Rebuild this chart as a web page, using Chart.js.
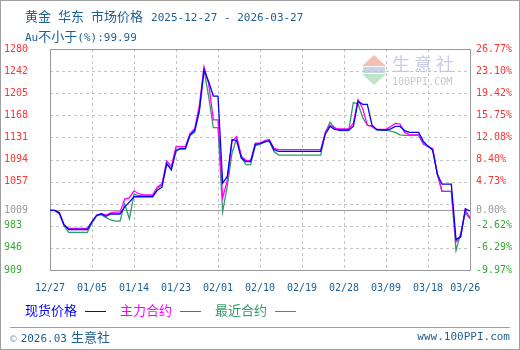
<!DOCTYPE html>
<html>
<head>
<meta charset="utf-8">
<script src="https://cdn.jsdelivr.net/npm/chart.js@4.4.1/dist/chart.umd.min.js"></script>
<style>
    body { margin: 0; background: #fff; }
    #wrap { position: relative; width: 520px; height: 350px; overflow: hidden; }
    #wrap canvas { position: absolute; left: 0; top: 0; }
    .frame { position: absolute; left: 0; top: 0; width: 520px; height: 350px; box-sizing: border-box; border: 1px solid #a0a0a0; pointer-events: none; }
    .t { position: absolute; white-space: nowrap; color: #1d5f91; line-height: 1; }
    .cjk { font-family: "Noto Sans CJK SC", sans-serif; font-size: 13px; }
    .mono { font-family: "DejaVu Sans Mono", monospace; font-size: 11px; }
    .lg { position: absolute; top: 303px; font-family: "Noto Sans CJK SC", sans-serif; font-size: 13px; line-height: 1; white-space: nowrap; }
    .lg i { display: inline-block; width: 21px; height: 0; border-top: 1.5px solid; vertical-align: middle; margin-left: 8px; }
    .sep { position: absolute; left: 10px; top: 327px; width: 500px; height: 0; border-top: 1px solid #a0a0a0; }
</style>
</head>
<body>
<div id="wrap">
    <canvas id="grafico" width="520" height="350"></canvas>
    <div class="t" style="left:25px; top:8px;">
        <span class="cjk" style="margin-right:7px">黄金</span><span class="cjk" style="margin-right:7px">华东</span><span class="cjk" style="margin-right:8px">市场价格</span><span class="mono">2025-12-27 - 2026-03-27</span>
    </div>
    <div class="t" style="left:25px; top:28px;">
        <span class="mono">Au</span><span class="cjk">不小于</span><span class="mono">(%):99.99</span>
    </div>
    <div class="lg" style="left:25px; color:#0000ff;">现货价格<i></i></div>
    <div class="lg" style="left:120px; color:#ff00ff;">主力合约<i></i></div>
    <div class="lg" style="left:215px; color:#339966;">最近合约<i></i></div>
    <div class="sep"></div>
    <div class="t" style="left:10px; top:329px;">
        <span class="mono" style="color:#8a9fb5">©</span> <span class="mono">2026.03</span> <span class="cjk">生意社</span>
    </div>
    <div class="t mono" style="right:10px; top:331px;">www.100PPI.com</div>
    <div class="frame"></div>
</div>
<script>
// fechas: 2025-12-27 .. 2026-03-27 (una por día)
const fechaInicio = new Date(2025, 11, 27);
const totalDias = 91;
const etiquetas = [];
for (let i = 0; i < totalDias; i++) {
    const d = new Date(fechaInicio.getTime() + i * 86400000);
    etiquetas.push(String(d.getMonth() + 1).padStart(2, '0') + '/' + String(d.getDate()).padStart(2, '0'));
}

// 现货价格
const precioSpot = [
    1009, 1009, 1005, 985, 977, 977, 977, 977, 977, 990,
    1001, 1003, 999, 1003, 1003, 1003, 1015, 1023, 1032, 1032,
    1032, 1032, 1032, 1043, 1048, 1088, 1077, 1109, 1113, 1113,
    1136, 1143, 1177, 1245, 1225, 1201, 1201, 1055, 1066, 1128,
    1126, 1097, 1091, 1091, 1120, 1121, 1124, 1126, 1111, 1108,
    1108, 1108, 1108, 1108, 1108, 1108, 1108, 1108, 1108, 1137,
    1150, 1145, 1144, 1144, 1144, 1150, 1192, 1187, 1187, 1152,
    1145, 1144, 1144, 1146, 1150, 1150, 1143, 1140, 1140, 1140,
    1125, 1117, 1110, 1070, 1053, 1053, 1053, 960, 965, 1012,
    1008
];

// 主力合约
const contratoPrincipal = [
    1009, 1009, 1005, 985, 979, 979, 979, 979, 979, 990,
    1001, 1004, 1001, 1005, 1006, 1006, 1028, 1030, 1042, 1037,
    1035, 1035, 1035, 1048, 1054, 1092, 1083, 1116, 1116, 1116,
    1138, 1146, 1185, 1250, 1222, 1161, 1161, 1030, 1060, 1125,
    1133, 1100, 1093, 1093, 1122, 1122, 1126, 1128, 1113, 1111,
    1111, 1111, 1111, 1111, 1111, 1111, 1111, 1111, 1111, 1140,
    1152, 1147, 1146, 1146, 1146, 1155, 1195, 1180, 1152, 1150,
    1145, 1145, 1145, 1150, 1155, 1154, 1140, 1136, 1136, 1136,
    1122, 1116, 1113, 1070, 1041, 1041, 1041, 956, 965, 1010,
    996
];

// 最近合约
const contratoCercano = [
    1009, 1009, 1003, 983, 972, 972, 972, 972, 972, 988,
    1000, 1002, 997, 993, 991, 991, 1020, 995, 1036, 1034,
    1034, 1034, 1034, 1046, 1052, 1086, 1080, 1112, 1112, 1112,
    1135, 1140, 1175, 1245, 1200, 1148, 1148, 1007, 1050, 1105,
    1130, 1098, 1086, 1086, 1118, 1120, 1124, 1125, 1108, 1102,
    1102, 1102, 1102, 1102, 1102, 1102, 1102, 1102, 1102, 1140,
    1157, 1148, 1143, 1143, 1143, 1190, 1188, 1165, 1152, 1150,
    1144, 1144, 1144, 1142, 1140, 1136, 1135, 1135, 1135, 1135,
    1120, 1116, 1112, 1070, 1041, 1041, 1041, 942, 971, 1005,
    995
];

// ejes
const valorBase = 1009.7;
const ticksY = [909, 946.1, 983.2, 1009.7, 1020.3, 1057.4, 1094.5, 1131.6, 1168.7, 1205.8, 1242.9, 1280];
const etiquetasIzq = ['909', '946', '983', '1009', '', '1057', '1094', '1131', '1168', '1205', '1242', '1280'];
const etiquetasDer = ['-9.97%', '-6.29%', '-2.62%', '0.00%', '', '4.73%', '8.40%', '12.08%', '15.75%', '19.42%', '23.10%', '26.77%'];
const ticksX = [0, 9, 18, 27, 36, 45, 54, 63, 72, 81, 89];

const colorTick = function (ctx) {
    const v = ctx.tick ? ctx.tick.value : 0;
    if (Math.abs(v - valorBase) < 0.01) return '#999999';
    return v > valorBase ? '#ff3333' : '#33aa33';
};

// rejilla punteada, línea base, marco y marca de agua
const marco = {
    id: 'marco',
    beforeDatasetsDraw(chart) {
        const c = chart.ctx;
        const a = chart.chartArea;
        const sy = chart.scales.y;
        const sx = chart.scales.x;
        c.save();
        // marca de agua
        const lx = a.right - 108, ly = a.top + 6;
        c.fillStyle = '#f6bdb4';
        c.beginPath(); c.moveTo(lx + 12, ly); c.lineTo(lx + 24, ly + 11); c.lineTo(lx, ly + 11); c.fill();
        c.fillStyle = '#c9d3e6';
        c.fillRect(lx + 1, ly + 12, 22, 6);
        c.fillStyle = '#bfe6c4';
        c.beginPath(); c.moveTo(lx, ly + 19); c.lineTo(lx + 24, ly + 19); c.lineTo(lx + 12, ly + 30); c.fill();
        c.fillStyle = '#c8cee2';
        c.font = '18px "Noto Sans CJK SC"';
        c.textBaseline = 'middle';
        c.fillText('生 意 社', lx + 30, ly + 9);
        c.fillStyle = '#c8c8c8';
        c.font = '10px "DejaVu Sans Mono"';
        c.fillText('100PPI.COM', lx + 30, ly + 27);
        // rejilla
        c.strokeStyle = '#c4c4c4';
        c.lineWidth = 1;
        c.setLineDash([3, 3]);
        ticksY.forEach(function (v) {
            if (v === 909 || v === 1280 || v === valorBase) return;
            const y = Math.round(sy.getPixelForValue(v)) + 0.5;
            c.beginPath(); c.moveTo(a.left, y); c.lineTo(a.right, y); c.stroke();
        });
        ticksX.forEach(function (i) {
            if (i === 0 || i === 89) return;
            const x = Math.round(sx.getPixelForValue(i)) + 0.5;
            c.beginPath(); c.moveTo(x, a.top); c.lineTo(x, a.bottom); c.stroke();
        });
        c.setLineDash([]);
        // línea base
        const yb = Math.round(sy.getPixelForValue(valorBase)) + 0.5;
        c.strokeStyle = '#999999';
        c.beginPath(); c.moveTo(a.left, yb); c.lineTo(a.right, yb); c.stroke();
        c.strokeRect(Math.round(a.left) + 0.5, Math.round(a.top) + 0.5, Math.round(a.right - a.left), Math.round(a.bottom - a.top));
        c.restore();
    }
};

window.onload = function () {
    const ctx = document.getElementById('grafico');
    new Chart(ctx.getContext('2d'), {
        type: 'line',
        data: {
            labels: etiquetas,
            datasets: [{
                label: '现货价格',
                data: precioSpot,
                borderColor: '#0000ff',
                borderWidth: 1.3,
                pointRadius: 0,
                tension: 0
            }, {
                label: '主力合约',
                data: contratoPrincipal,
                borderColor: '#ff00ff',
                borderWidth: 1.3,
                pointRadius: 0,
                tension: 0
            }, {
                label: '最近合约',
                data: contratoCercano,
                borderColor: '#339966',
                borderWidth: 1.3,
                pointRadius: 0,
                tension: 0
            }]
        },
        options: {
            responsive: false,
            animation: false,
            devicePixelRatio: 1,
            layout: { padding: { left: 4, right: 0, top: 49, bottom: 50 } },
            scales: {
                x: {
                    type: 'category',
                    afterBuildTicks: function (scale) {
                        scale.ticks = ticksX.map(function (i) { return { value: i }; });
                    },
                    afterFit: function (scale) { scale.height = 30; },
                    ticks: {
                        autoSkip: false,
                        maxRotation: 0,
                        minRotation: 0,
                        padding: 12,
                        color: '#1d5f91',
                        font: { family: 'DejaVu Sans Mono', size: 10 },
                        callback: function (value, index) { return etiquetas[ticksX[index]]; }
                    },
                    grid: { display: false, drawTicks: false },
                    border: { display: false }
                },
                y: {
                    position: 'left',
                    min: 909,
                    max: 1280,
                    afterBuildTicks: function (scale) {
                        scale.ticks = ticksY.map(function (v) { return { value: v }; });
                    },
                    afterFit: function (scale) { scale.width = 46; },
                    ticks: {
                        autoSkip: false,
                        crossAlign: 'far',
                        color: colorTick,
                        font: { family: 'DejaVu Sans Mono', size: 10 },
                        callback: function (value, index) { return etiquetasIzq[index]; }
                    },
                    grid: { display: false, drawTicks: false },
                    border: { display: false }
                },
                y2: {
                    position: 'right',
                    min: 909,
                    max: 1280,
                    afterBuildTicks: function (scale) {
                        scale.ticks = ticksY.map(function (v) { return { value: v }; });
                    },
                    afterFit: function (scale) { scale.width = 50; },
                    ticks: {
                        autoSkip: false,
                        padding: 6,
                        color: colorTick,
                        font: { family: 'DejaVu Sans Mono', size: 10 },
                        callback: function (value, index) { return etiquetasDer[index]; }
                    },
                    grid: { display: false, drawTicks: false },
                    border: { display: false }
                }
            },
            plugins: {
                legend: { display: false },
                title: { display: false },
                tooltip: { enabled: false }
            }
        },
        plugins: [marco]
    });
};
</script>
</body>
</html>
